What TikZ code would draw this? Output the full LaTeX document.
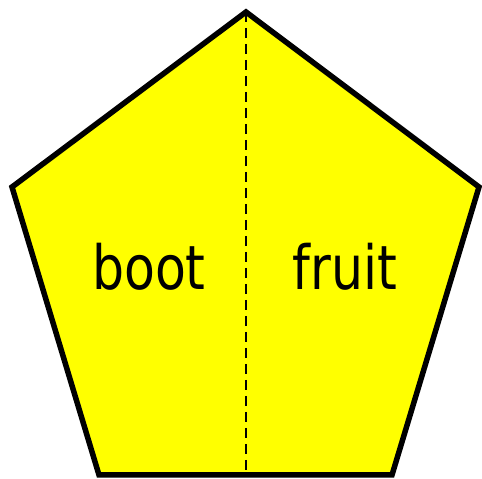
\documentclass[tikz,border=0pt]{standalone}
\usepackage{fontspec}
\setmainfont{DejaVu Sans Condensed}
\definecolor{pentfill}{RGB}{255,255,0}
\begin{document}
\begin{tikzpicture}[x=1pt,y=1pt,
  shapeline/.style={line width=5.5pt,line join=miter,fill=pentfill,draw=black},
  midline/.style={line width=2.4pt,dash pattern=on 10pt off 6pt},
  lbl/.style={anchor=base,inner sep=0pt,font=\fontsize{61}{61}\selectfont,xscale=0.92}]
\useasboundingbox (0,0) rectangle (482,479);
\coordinate (T) at (246,467);
\coordinate (L) at (12,292);
\coordinate (R) at (479,292);
\coordinate (BL) at (99,4);
\coordinate (BR) at (392,4);
\coordinate (B) at (246,4);
\draw[shapeline] (T) -- (R) -- (BR) -- (BL) -- (L) -- cycle;
\draw[midline] (T) -- (B);
\node[lbl] (boot) at (149,189) {boot};
\node[lbl] (fruit) at (345,189) {fruit};
\end{tikzpicture}
\end{document}
